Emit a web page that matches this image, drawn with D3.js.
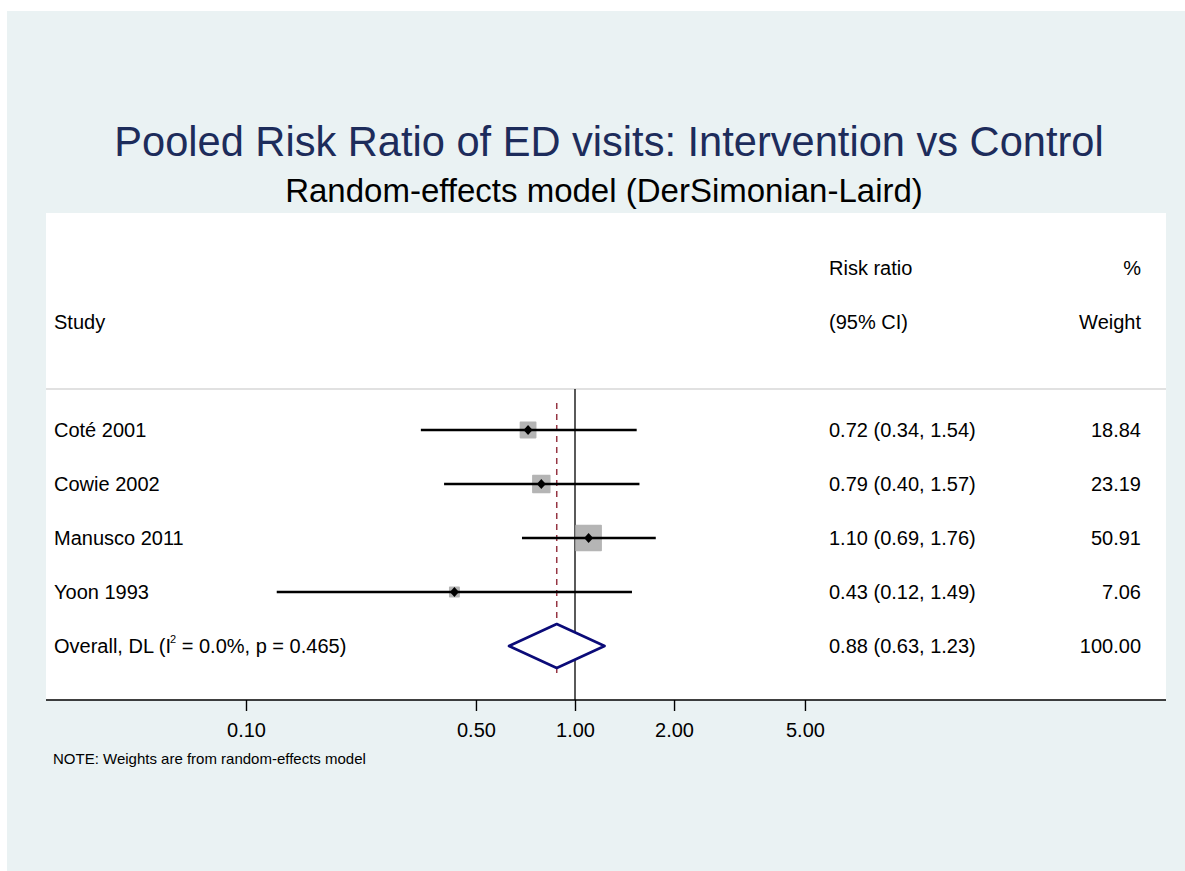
<!DOCTYPE html>
<html>
<head>
<meta charset="utf-8">
<title>Forest plot</title>
<script src="https://cdn.jsdelivr.net/npm/d3@7"></script>
<style>
  body { margin: 0; background: #fff; }
  text { font-family: "Liberation Sans", Arial, sans-serif; }
</style>
</head>
<body>
<script>
// data
var studies = ["Coté 2001", "Cowie 2002", "Manusco 2011", "Yoon 1993"];
var rr = [0.72, 0.79, 1.10, 0.43];
var ciLow = [0.34, 0.40, 0.69, 0.124];
var ciHigh = [1.54, 1.57, 1.76, 1.49];
var weights = [18.84, 23.19, 50.91, 7.06];
var overallRR = 0.88, overallLow = 0.63, overallHigh = 1.23;
var i2 = 0.0, pHet = 0.465;
var tickValues = [0.1, 0.5, 1, 2, 5];

var w = 1185, h = 871;
var navy = "#1d2c5b";

var svg = d3.select("body").append("svg")
  .attr("width", w)
  .attr("height", h);

// graph region + plot region
svg.append("rect").attr("x", 7).attr("y", 11).attr("width", w - 7).attr("height", h - 11)
  .attr("fill", "#eaf2f3");
svg.append("rect").attr("x", 46).attr("y", 213).attr("width", 1120).attr("height", 487)
  .attr("fill", "#fff");

// scales
var x = d3.scaleLog().domain([0.1, 1]).range([246, 575]);
var y = d3.scaleLinear().domain([0, 8]).range([268, 700]); // row index -> y
var boxSide = d3.scaleSqrt().domain([0, d3.max(weights)]).range([0, 25]);

// titles
svg.append("text").text("Pooled Risk Ratio of ED visits: Intervention vs Control")
  .attr("x", 609).attr("y", 156)
  .attr("text-anchor", "middle")
  .attr("font-size", 41.6)
  .attr("fill", navy);
svg.append("text").text("Random-effects model (DerSimonian-Laird)")
  .attr("x", 604).attr("y", 202)
  .attr("text-anchor", "middle")
  .attr("font-size", 33)
  .attr("fill", "#000");

// header
var fs = 20;
function label(txt, xx, row, anchor) {
  return svg.append("text").text(txt)
    .attr("x", xx).attr("y", y(row) + 7)
    .attr("text-anchor", anchor || "start")
    .attr("font-size", fs)
    .attr("fill", "#000");
}
label("Risk ratio", 829, 0);
label("%", 1141, 0, "end");
label("Study", 54, 1);
label("(95% CI)", 829, 1);
label("Weight", 1141, 1, "end");

// separator under header
svg.append("line")
  .attr("x1", 46).attr("x2", 1166)
  .attr("y1", y(2) + 13).attr("y2", y(2) + 13)
  .attr("stroke", "#c4c4c4").attr("stroke-width", 1.2);

// null line at 1
svg.append("line")
  .attr("x1", x(1)).attr("x2", x(1))
  .attr("y1", y(2) + 13).attr("y2", y(8))
  .attr("stroke", "#000").attr("stroke-width", 1.3);

// overall effect dashed line
svg.append("line")
  .attr("x1", x(overallRR)).attr("x2", x(overallRR))
  .attr("y1", y(2.5)).attr("y2", y(7.5))
  .attr("stroke", "#963543").attr("stroke-width", 1.5)
  .attr("stroke-dasharray", "6,5");

// study rows
var rows = studies.map(function(s, i) {
  return { name: s, rr: rr[i], lo: ciLow[i], hi: ciHigh[i], wt: weights[i], row: i + 3 };
});

var g = svg.selectAll(".study").data(rows).enter().append("g").attr("class", "study");

g.append("rect")
  .attr("x", function(d) { return x(d.rr) - boxSide(d.wt) / 2; })
  .attr("y", function(d) { return y(d.row) - boxSide(d.wt) / 2; })
  .attr("width", function(d) { return boxSide(d.wt); })
  .attr("height", function(d) { return boxSide(d.wt); })
  .attr("fill", "#b5b5b5")
  .attr("stroke", "#b5b5b5").attr("stroke-width", 1.6).attr("stroke-linejoin", "round");

g.append("line")
  .attr("x1", function(d) { return x(d.lo); })
  .attr("x2", function(d) { return x(d.hi); })
  .attr("y1", function(d) { return y(d.row); })
  .attr("y2", function(d) { return y(d.row); })
  .attr("stroke", "#000").attr("stroke-width", 2.6);

g.append("path")
  .attr("d", function(d) {
    var cx = x(d.rr), cy = y(d.row);
    return "M" + (cx - 4.5) + "," + cy + "L" + cx + "," + (cy - 5) + "L" + (cx + 4.5) + "," + cy + "L" + cx + "," + (cy + 5) + "Z";
  })
  .attr("fill", "#000");

g.append("text").text(function(d) { return d.name; })
  .attr("x", 54).attr("y", function(d) { return y(d.row) + 7; })
  .attr("font-size", fs).attr("fill", "#000");
g.append("text")
  .text(function(d) { return d.rr.toFixed(2) + " (" + d.lo.toFixed(2) + ", " + d.hi.toFixed(2) + ")"; })
  .attr("x", 829).attr("y", function(d) { return y(d.row) + 7; })
  .attr("font-size", fs).attr("fill", "#000");
g.append("text").text(function(d) { return d.wt.toFixed(2); })
  .attr("x", 1141).attr("y", function(d) { return y(d.row) + 7; })
  .attr("text-anchor", "end")
  .attr("font-size", fs).attr("fill", "#000");

// overall diamond
var oy = y(7);
svg.append("path")
  .attr("d", "M" + x(overallLow) + "," + oy +
             "L" + x(overallRR) + "," + (oy - 22) +
             "L" + x(overallHigh) + "," + oy +
             "L" + x(overallRR) + "," + (oy + 22) + "Z")
  .attr("fill", "#fff")
  .attr("stroke", "#0b0b78").attr("stroke-width", 2.6).attr("stroke-linejoin", "round");

var ot = svg.append("text").attr("x", 54).attr("y", oy + 7).attr("font-size", fs).attr("fill", "#000");
ot.append("tspan").text("Overall, DL (I");
ot.append("tspan").text("2").attr("font-size", 11).attr("dy", -10).attr("dx", -1);
ot.append("tspan").text(" = " + i2.toFixed(1) + "%, p = " + pHet.toFixed(3) + ")").attr("dy", 10);

var totalW = d3.sum(weights);
svg.append("text").text(overallRR.toFixed(2) + " (" + overallLow.toFixed(2) + ", " + overallHigh.toFixed(2) + ")")
  .attr("x", 829).attr("y", oy + 7).attr("font-size", fs).attr("fill", "#000");
svg.append("text").text(totalW.toFixed(2))
  .attr("x", 1141).attr("y", oy + 7).attr("text-anchor", "end")
  .attr("font-size", fs).attr("fill", "#000");

// x axis
var axis = d3.axisBottom(x)
  .tickValues(tickValues)
  .tickFormat(d3.format(".2f"))
  .tickSize(11)
  .tickSizeOuter(0);
var ax = svg.append("g").attr("transform", "translate(0," + y(8) + ")").call(axis);
ax.select(".domain").remove();
ax.append("line").attr("x1", 46).attr("x2", 1166).attr("stroke", "#000").attr("stroke-width", 1.5);
ax.selectAll(".tick line").attr("stroke", "#000").attr("stroke-width", 1.4);
ax.selectAll(".tick text")
  .attr("font-family", "Liberation Sans, Arial, sans-serif")
  .attr("font-size", fs).attr("fill", "#000")
  .attr("y", 37).attr("dy", null);

// note
svg.append("text").text("NOTE: Weights are from random-effects model")
  .attr("x", 53).attr("y", 764)
  .attr("font-size", 15).attr("fill", "#000");
</script>
</body>
</html>
